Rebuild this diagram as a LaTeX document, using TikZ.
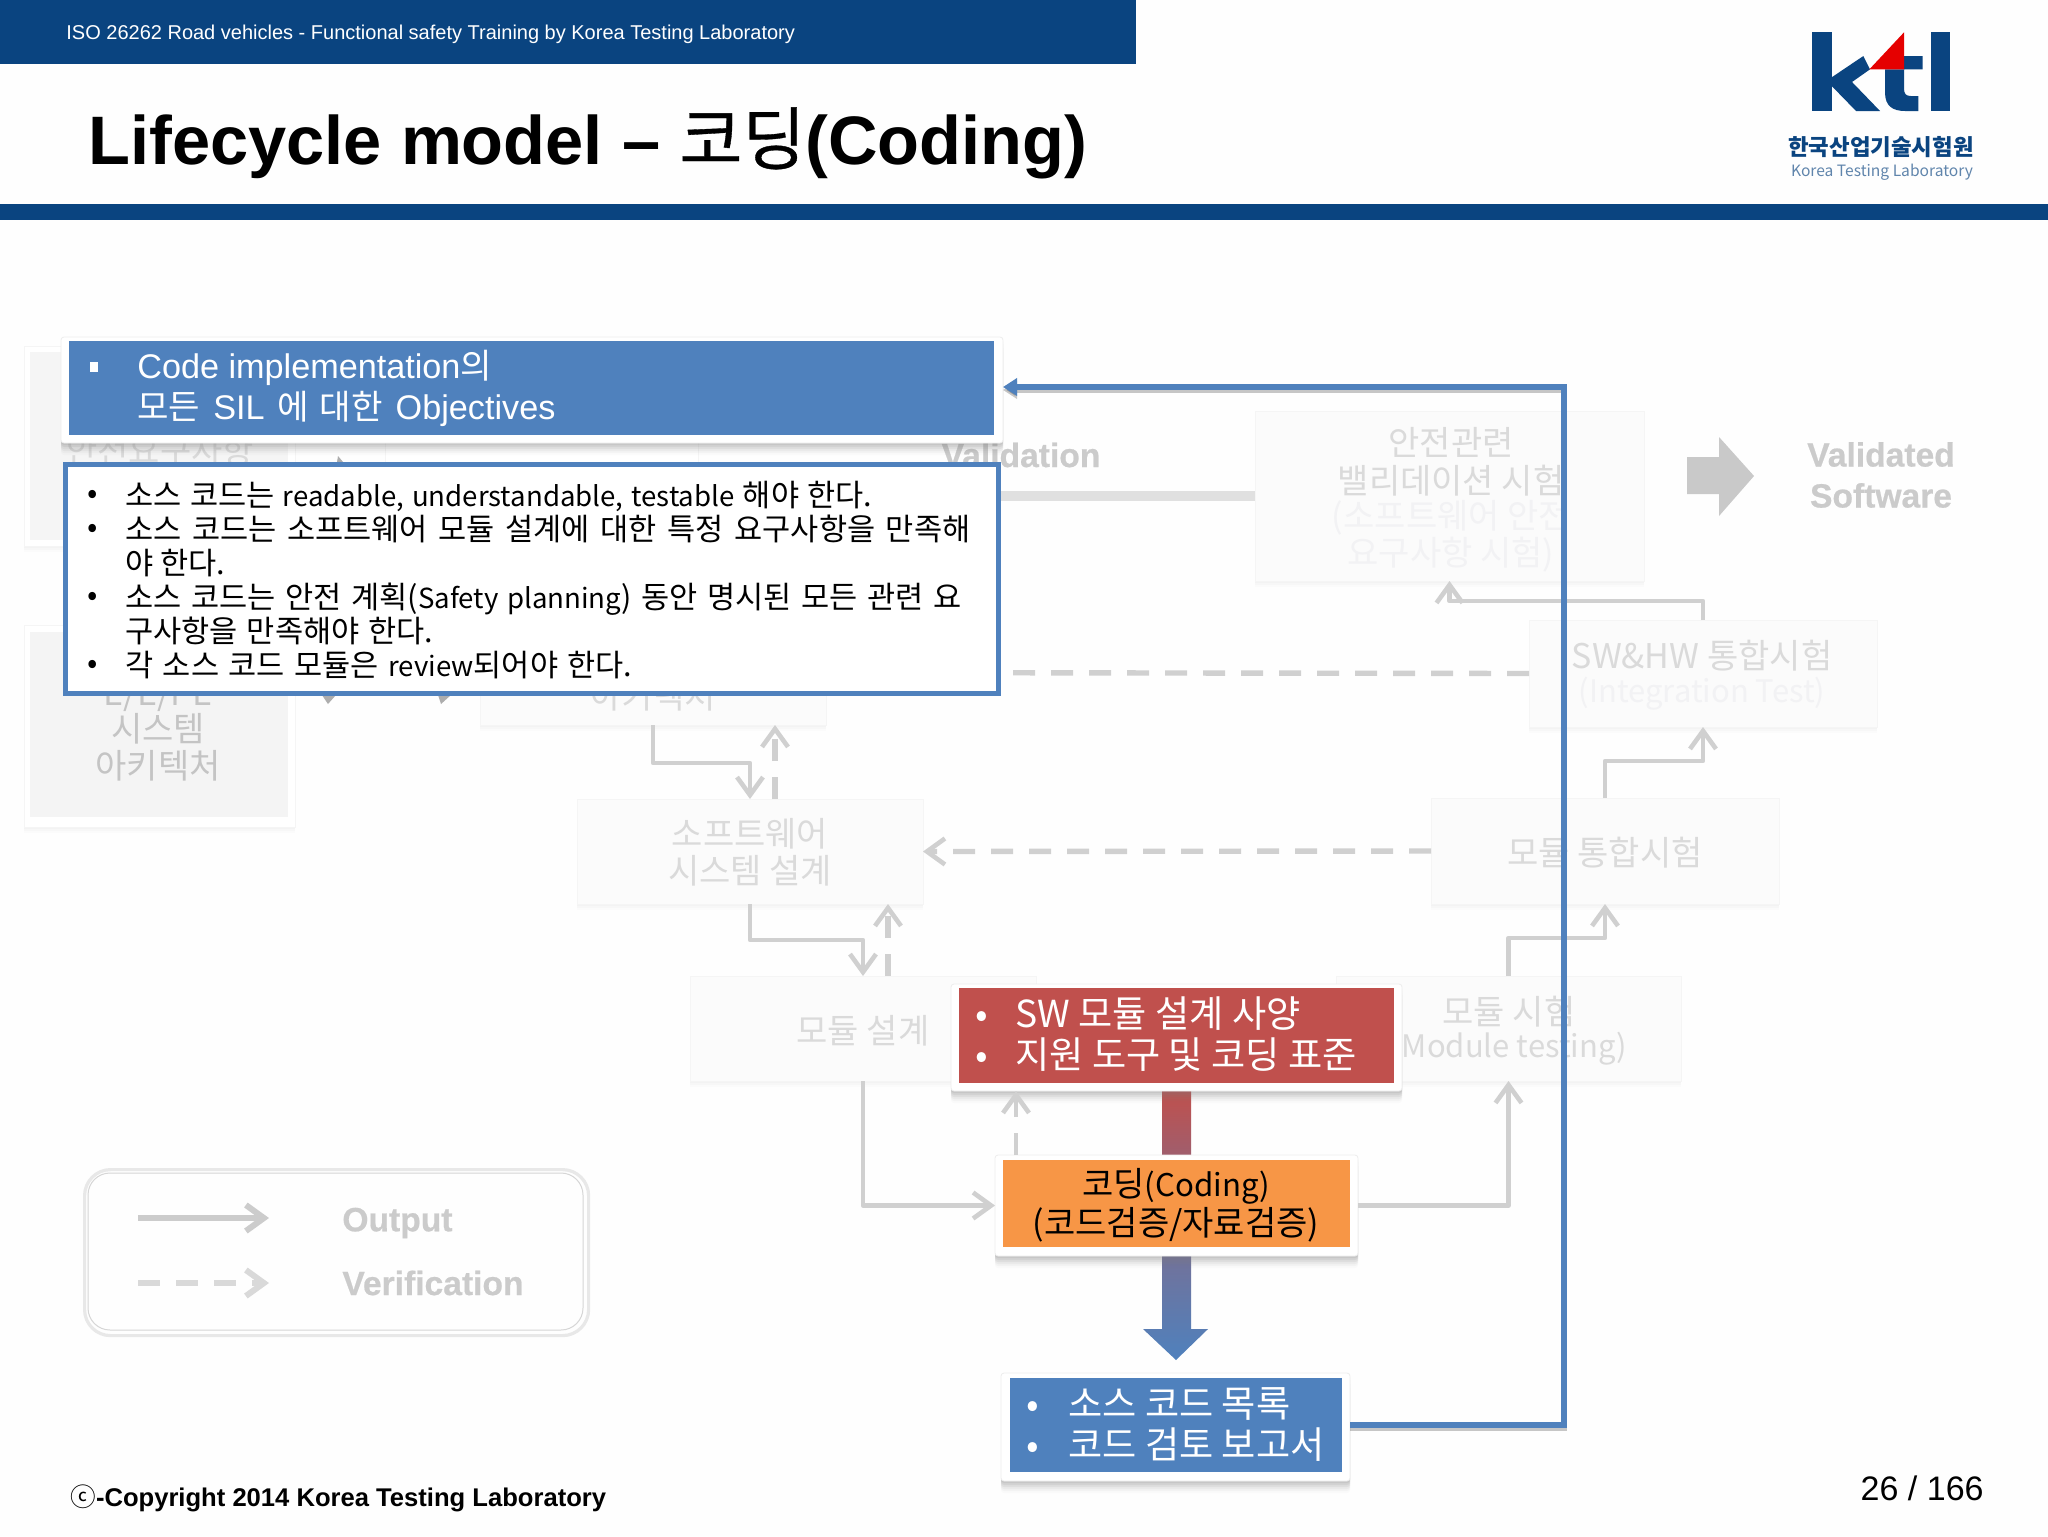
\documentclass[tikz,border=0pt]{standalone}
\usepackage{fontspec}
\setmainfont{Liberation Sans}
\newfontfamily\kr[WordSpace=2.2]{Noto Sans CJK KR}
\newfontfamily\krtight{Noto Sans CJK KR}
\usetikzlibrary{arrows.meta,shadows,calc}
\definecolor{navy}{HTML}{0A4480}
\definecolor{kblue}{HTML}{4F81BD}
\definecolor{kred}{HTML}{C0504D}
\definecolor{korange}{HTML}{F79646}
\definecolor{fadeline}{HTML}{D0D0D0}
\definecolor{fadetext}{HTML}{DADADA}
\definecolor{paletext}{HTML}{F2F2F4}
\definecolor{boldfade}{HTML}{CBCBCB}
\colorlet{frameline}{white!96!black}
\colorlet{panefill}{white!98.5!black}
\tikzset{
  softshadow/.style={drop shadow={shadow xshift=0pt,shadow yshift=-1pt,opacity=.03},
     drop shadow={shadow xshift=0pt,shadow yshift=-2pt,opacity=.03},
     drop shadow={shadow xshift=0pt,shadow yshift=-3pt,opacity=.02}},
  hardshadow/.style={drop shadow={shadow xshift=0pt,shadow yshift=-1pt,opacity=.14},
     drop shadow={shadow xshift=0pt,shadow yshift=-2pt,opacity=.12},
     drop shadow={shadow xshift=0pt,shadow yshift=-3pt,opacity=.1},
     drop shadow={shadow xshift=0pt,shadow yshift=-4pt,opacity=.08},
     drop shadow={shadow xshift=0pt,shadow yshift=-5pt,opacity=.05},
     drop shadow={shadow xshift=0pt,shadow yshift=-6pt,opacity=.03}},
  fadebox/.style={fill=white,softshadow,draw=frameline,line width=.3pt},
  whiteframe/.style={fill=white,hardshadow,draw=black!7,line width=.4pt,rounded corners=1.5pt},
  outline/.style={draw=fadeline,line width=2.3pt,line join=round},
  barb/.style={-{Straight Barb[length=9pt,width=13pt,line width=2.3pt]}},
  outarrow/.style={outline,barb},
  verline/.style={outline,line width=2.7pt,dash pattern=on 11pt off 8pt},
  verarrow/.style={verline,barb},
  fadeko/.style={text=fadetext,font=\kr\fontsize{17}{19}\selectfont,align=center,inner sep=0pt},
  fadelat/.style={text=fadetext,font=\krtight\fontsize{15.5}{19}\selectfont,align=center,inner sep=0pt},
  boldlab/.style={text=boldfade,font=\bfseries\addfontfeature{FakeBold=0.6}\fontsize{16.8}{20.5}\selectfont,align=center,inner sep=0pt},
  whiteko/.style={text=white,font=\kr\fontsize{18.6}{21}\selectfont,align=left,inner sep=0pt,anchor=west},
  codetext/.style={inner sep=0pt,font=\krtight\fontsize{17}{19}\selectfont,align=center},
}
\newcommand{\pxbox}[7]{\node[#6,anchor=north west,inner sep=0pt,outer sep=0pt,
  minimum width={0.5pt*(#4-#2)},minimum height={0.5pt*(#5-#3)}] (#1) at (#2,#3) {#7};}
\newcommand{\bul}{\makebox[19pt][l]{\raisebox{1.5pt}{•}}}
\newcommand{\latn}[1]{{\krtight\fontsize{13.8}{17}\selectfont #1}}
\begin{document}
\begin{tikzpicture}[x=0.5pt,y=-0.5pt]
\useasboundingbox (0,0) rectangle (2048,1536);
\fill[white!99.6!black] (0,0) rectangle (2048,1536);

% header band and title
\fill[navy] (0,0) rectangle (1136,64);
\fill[navy] (0,204) rectangle (2048,220);
\node[anchor=west,inner sep=0pt,text=white,font=\fontsize{10}{12}\selectfont] (toptext) at (66,34)
  {ISO 26262 Road vehicles - Functional safety Training by Korea Testing Laboratory};
\node[anchor=west,inner sep=0pt,font=\bfseries\fontsize{34.3}{38}\selectfont] (title) at (88,143)
  {Lifecycle model – {\krtight\mdseries\addfontfeature{FakeBold=0.5} 코딩}(Coding)};

% logo
\begin{scope}[shift={(1700,0)},x=0.16667pt,y=-0.16667pt]
\fill[navy] (337,97) rectangle (395,333);
\fill[navy] (395,232) -- (490,168) -- (510,208) -- (456,246) -- (540,333) -- (468,333) -- (395,258) -- cycle;
\fill[navy] (555,208) -- (555,278) .. controls (555,318) and (578,333) .. (615,333) -- (655,333) -- (655,288) -- (632,288)
   .. controls (618,288) and (612,282) .. (612,266) -- (612,208) -- (668,208) -- (668,168) -- (612,168) -- (612,208) -- cycle;
\fill[navy] (693,97) rectangle (750,333);
\fill[red!90!black] (612,97) -- (612,208) -- (508,208) -- cycle;
\end{scope}
\node[inner sep=0pt,text=navy,font=\krtight\bfseries\fontsize{11.2}{13}\selectfont] (logoko) at (1881,147) {한국산업기술시험원};
\node[inner sep=0pt,text=navy!65!white,font=\krtight\fontsize{7.8}{10}\selectfont] (logoen) at (1882,172) {Korea Testing Laboratory};

% faded background boxes
\pxbox{reqbox}{24}{346}{295}{546}{fadebox}{}
\fill[white!96!black] (30,352) rectangle (288,540);
\pxbox{topmid}{385}{400}{698}{560}{fadebox}{}
\pxbox{eebox}{24}{625}{295}{827}{fadebox}{}
\fill[white!95.5!black] (30,632) rectangle (288,817);
\node[fadeko] (reqtxt) at (160,451) {안전요구사항};
\node[fadeko,text=fadetext!90!black] (eea) at (158,695) {E/E/PE};
\node[fadeko,text=fadetext!90!black] (eeb) at (158,729) {시스템};
\node[fadeko,text=fadetext!90!black] (eec) at (158,766) {아키텍처};

\pxbox{arch}{480}{620}{826}{725}{fadebox,fill=panefill}{}
\node[fadeko] (archtxt) at (653,696) {아키텍처};
\pxbox{swd}{577}{799}{923}{904}{fadebox,fill=panefill}{}
\node[fadeko] (swda) at (750,834) {소프트웨어};
\node[fadeko] (swdb) at (750,871) {시스템 설계};
\pxbox{moddes}{690}{976}{1036}{1081}{fadebox,fill=panefill}{}
\node[fadeko] (moddestxt) at (863,1031) {모듈 설계};
\pxbox{modtest}{1336}{976}{1681}{1081}{fadebox,fill=panefill}{}
\node[fadeko] (mta) at (1509,1012) {모듈 시험};
\node[fadelat] (mtb) at (1509,1049) {(Module testing)};
\pxbox{modint}{1431}{798}{1779}{904}{fadebox,fill=panefill}{}
\node[fadeko] (mitxt) at (1605,853) {모듈 통합시험};
\pxbox{swhw}{1529}{620}{1877}{727}{fadebox,fill=panefill}{}
\node[fadeko] (swhwa) at (1702,656) {SW\&HW 통합시험};
\node[fadelat,text=paletext] (swhwb) at (1702,694) {(Integration Test)};
\pxbox{safety}{1255}{411}{1644}{581}{fadebox,fill=panefill}{}
\node[fadeko] (safa) at (1451,442) {안전관련};
\node[fadeko] (safb) at (1451,481) {밸리데이션 시험};
\node[fadeko,text=paletext] (safc) at (1451,518) {(소프트웨어 안전};
\node[fadeko,text=paletext] (safd) at (1451,555) {요구사항 시험)};

% Validation and validated software
\node[boldlab] (valtxt) at (1021,455) {Validation};
\node[boldlab] (vsw) at (1881,475) {Validated\\Software};
\fill[white!88!black] (1000,491) rectangle (1255,501);
\fill[white!79!black] (1687,457) -- (1719,457) -- (1719,437) -- (1754,476) -- (1719,516) -- (1719,494) -- (1687,494) -- cycle;

% faded connectors
\draw[outarrow] (arch.south) -- ++(0,38) -| (swd.north);
\draw[verarrow] ([xshift=12.5pt]swd.north) -- ([xshift=12.5pt]swd.north |- arch.south);
\draw[outarrow] (swd.south) -- ++(0,36) -| (moddes.north);
\draw[verarrow] ([xshift=12.5pt]moddes.north) -- ([xshift=12.5pt]moddes.north |- swd.south);
\draw[outarrow] (modtest.north) -- ++(0,-38) -| (modint.south);
\draw[outarrow] (modint.north) -- ++(0,-37) -| (swhw.south);
\draw[outarrow] (swhw.north) -- ++(0,-19) -| (safety.south);
\draw[verline] (swhw.west) -- (arch.east);
\draw[verarrow] (modint.west) -- (swd.east);
\fill[white!68!black] (322,695) -- (336,695) -- (328,704) -- cycle;
\fill[white!68!black] (438,695) -- (451,695) -- (441,704) -- cycle;
\fill[white!68!black] (337,462) -- (338,456) -- (343,462) -- cycle;

\coordinate (turn) at (1564,387);

% legend
\node[draw=white!91!black,line width=1.6pt,rounded corners=13pt,anchor=north west,inner sep=0pt,
  minimum width=252pt,minimum height=83pt] (legend) at (83,1168) {};
\draw[white!84!black,line width=.5pt,rounded corners=11pt] (88,1173) rectangle (583,1330);
\coordinate (la) at (138,1218); \coordinate (lb) at (269,1218);
\coordinate (lc) at (138,1283); \coordinate (ld) at (269,1283);
\draw[outline,line width=3pt,white!80!black,-{Straight Barb[length=9pt,width=13pt,line width=3pt]}] (la) -- (lb);
\draw[outline,line width=3pt,white!85!black,dash pattern=on 11pt off 8pt,-{Straight Barb[length=9pt,width=13pt,line width=3pt]}] (lc) -- (ld);
\node[boldlab,anchor=west] (lout) at (342,1223) {Output};
\node[boldlab,anchor=west] (lver) at (342,1283) {Verification};

% gradient arrow between the three boxes
\shade[top color=kred,bottom color=kblue,middle color=kblue!60!kred]
  (1162,1091) -- (1191,1091) -- (1191,1329) -- (1208,1329) -- (1176,1360) -- (1143,1329) -- (1162,1329) -- cycle;

% objective header and text frame
\pxbox{hdrframe}{61}{337}{1003}{443}{whiteframe}{}
\pxbox{hdr}{69}{341}{994}{435}{fill=kblue}{}
\fill[white] (90,362) rectangle (98,372);
\node[anchor=west,inner sep=0pt,text=white,font=\fontsize{17.1}{20}\selectfont] (hdra) at (137,368) {Code implementation{\krtight 의}};
\node[anchor=west,inner sep=0pt,text=white,font=\fontsize{17.1}{20}\selectfont] (hdrb) at (137,409) {\makebox[209pt][s]{{\kr 모든} SIL {\kr 에 대한} Objectives}};
\pxbox{textbox}{65}{464}{998}{693}{fill=white,draw=kblue,line width=2.5pt}{}
\node[anchor=north west,inner sep=0pt,align=left,font=\kr\fontsize{15.3}{17}\selectfont] (bodytxt) at (87,481) {%
\bul\makebox[373.5pt][s]{소스 코드는 \latn{readable, understandable, testable} 해야 한다.}\\
\bul\makebox[422.5pt][s]{소스 코드는 소프트웨어 모듈 설계에 대한 특정 요구사항을 만족해}\\
\hspace*{19pt}야 한다.\\
\bul\makebox[418pt][s]{소스 코드는 안전 계획(\latn{Safety planning}) 동안 명시된 모든 관련 요}\\
\hspace*{19pt}\makebox[154pt][s]{구사항을 만족해야 한다.}\\
\bul\makebox[253.5pt][s]{각 소스 코드 모듈은 \latn{review}되어야 한다.}};

% input / coding / output boxes
\pxbox{redframe}{951}{984}{1402}{1091}{whiteframe}{}
\pxbox{redbox}{959}{988}{1394}{1083}{fill=kred}{}
\node[whiteko] (reda) at (975,1014) {\makebox[20pt][l]{•}SW 모듈 설계 사양};
\node[whiteko] (redb) at (975,1055) {\makebox[20pt][l]{•}지원 도구 및 코딩 표준};

\pxbox{codeframe}{995}{1155}{1358}{1256}{whiteframe}{}
\pxbox{codebox}{1003}{1160}{1350}{1247}{fill=korange}{}
\node[codetext] (codea) at (1176,1186) {코딩{\fontsize{15.6}{19}\selectfont(Coding)}};
\node[codetext] (codeb) at (1176,1225) {(코드검증/자료검증)};

\pxbox{srcframe}{1001}{1373}{1350}{1481}{whiteframe}{}
\pxbox{srcbox}{1010}{1378}{1342}{1472}{fill=kblue}{}
\node[whiteko] (srca) at (1026,1404) {\makebox[21pt][l]{•}소스 코드 목록};
\node[whiteko] (srcb) at (1026,1445) {\makebox[21pt][l]{•}코드 검토 보고서};

% connectors into and out of coding
\draw[outarrow] (moddes.south) |- (codeframe.west);
\draw[outarrow] (codeframe.east) -| (modtest.south);
\coordinate (vstart) at (1016,1155);
\draw[verarrow,line width=1.8pt] (vstart) -- (vstart |- redframe.south);

% blue return line
\draw[kblue,line width=2.6pt,line join=miter,
  preaction={draw=black,opacity=.22,line width=2.6pt,transform canvas={yshift=-1.5pt}},
  -{Triangle[length=7pt,width=8.5pt]}] ([yshift=1pt]srcframe.east) -| (turn) -- (turn -| hdrframe.east);

% footer
\node[anchor=west,inner sep=0pt,font=\bfseries\fontsize{12.8}{15}\selectfont] (copy) at (70,1498)
  {{\krtight\mdseries\fontsize{12.8}{15}\selectfont ⓒ}-Copyright 2014 Korea Testing Laboratory};
\node[anchor=east,inner sep=0pt,font=\fontsize{17}{20}\selectfont] (pageno) at (1984,1488) {26 / 166};
\end{tikzpicture}
\end{document}
